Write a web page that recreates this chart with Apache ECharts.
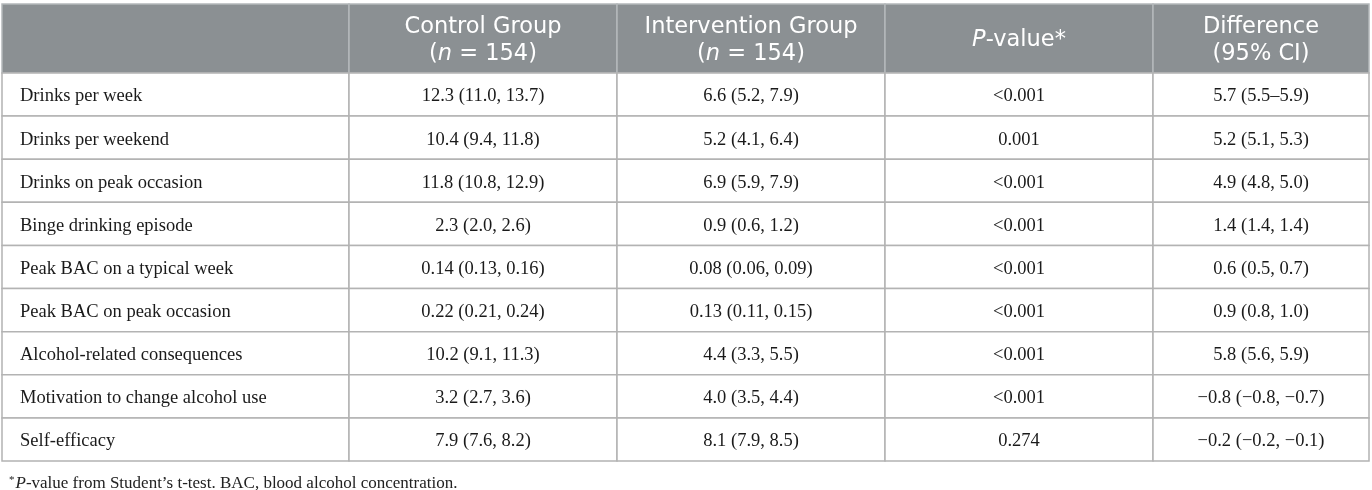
<!DOCTYPE html>
<html lang="en">
<head>
  <meta charset="utf-8">
  <title>Drinking outcomes table</title>
  <style>
    * { margin: 0; padding: 0; }
    #chart-container { position: relative; width: 1372px; height: 490px; overflow: hidden; background: #fff; }
  </style>
</head>
<body>
  <div id="chart-container"></div>
  <script src="https://cdn.jsdelivr.net/npm/echarts@6/dist/echarts.min.js"></script>
  <script>
    // table content
    var headerTitles = ['', 'Control Group', 'Intervention Group', 'P-value*', 'Difference'];
    var headerSubs = ['', '(n = 154)', '(n = 154)', '', '(95% CI)'];
    var rowLabels = [
      'Drinks per week',
      'Drinks per weekend',
      'Drinks on peak occasion',
      'Binge drinking episode',
      'Peak BAC on a typical week',
      'Peak BAC on peak occasion',
      'Alcohol-related consequences',
      'Motivation to change alcohol use',
      'Self-efficacy'
    ];
    var controlVals = [
      '12.3 (11.0, 13.7)', '10.4 (9.4, 11.8)', '11.8 (10.8, 12.9)', '2.3 (2.0, 2.6)',
      '0.14 (0.13, 0.16)', '0.22 (0.21, 0.24)', '10.2 (9.1, 11.3)', '3.2 (2.7, 3.6)', '7.9 (7.6, 8.2)'
    ];
    var interventionVals = [
      '6.6 (5.2, 7.9)', '5.2 (4.1, 6.4)', '6.9 (5.9, 7.9)', '0.9 (0.6, 1.2)',
      '0.08 (0.06, 0.09)', '0.13 (0.11, 0.15)', '4.4 (3.3, 5.5)', '4.0 (3.5, 4.4)', '8.1 (7.9, 8.5)'
    ];
    var pValues = ['<0.001', '0.001', '<0.001', '<0.001', '<0.001', '<0.001', '<0.001', '<0.001', '0.274'];
    var differences = [
      '5.7 (5.5–5.9)', '5.2 (5.1, 5.3)', '4.9 (4.8, 5.0)', '1.4 (1.4, 1.4)', '0.6 (0.5, 0.7)',
      '0.9 (0.8, 1.0)', '5.8 (5.6, 5.9)', '−0.8 (−0.8, −0.7)', '−0.2 (−0.2, −0.1)'
    ];
    var footnote = 'P-value from Student’s t-test. BAC, blood alcohol concentration.';

    // layout of the table (axis units)
    var colEdges = [0, 347, 615, 883, 1151, 1367];
    var headerSpan = 1.6;

    var columns = [rowLabels, controlVals, interventionVals, pValues, differences];
    var cells = [];
    for (var c = 0; c < 5; c++) {
      cells.push({ value: [c, -1], text: headerTitles[c], sub: headerSubs[c] });
      for (var r = 0; r < rowLabels.length; r++) {
        cells.push({ value: [c, r], text: columns[c][r] });
      }
    }

    function headerRich(title, sub) {
      var t = title.replace('P-value*', '{hi|P}{h|-value*}');
      if (t === title) t = '{h|' + title + '}';
      if (!sub) return t;
      var s = sub.replace('(n = 154)', '{h|(}{hi|n}{h| = 154)}');
      if (s === sub) s = '{h|' + sub + '}';
      return t + '\n' + s;
    }

    var headFont = "'DejaVu Sans', 'Open Sans', sans-serif";
    var bodyFont = "'Liberation Serif', serif";

    var dom = document.getElementById('chart-container');
    var myChart = echarts.init(dom, null, { renderer: 'canvas' });

    var option = {
      animation: false,
      backgroundColor: '#fff',
      grid: { left: 2, right: 3, top: 4, bottom: 29 },
      xAxis: { type: 'value', min: 0, max: colEdges[colEdges.length - 1], show: false },
      yAxis: { type: 'value', min: 0, max: headerSpan + rowLabels.length, inverse: true, show: false },
      title: {
        left: 4,
        top: 470,
        text: '{s|*}{i|P}{n|' + footnote.slice(1) + '}',
        textStyle: {
          rich: {
            s: { fontFamily: bodyFont, fontWeight: 'normal', fontSize: 11, color: '#222', verticalAlign: 'top', padding: [0, 1, 7, 0] },
            i: { fontFamily: bodyFont, fontWeight: 'normal', fontSize: 17, fontStyle: 'italic', color: '#222' },
            n: { fontFamily: bodyFont, fontWeight: 'normal', fontSize: 17, color: '#222' }
          }
        }
      },
      series: [{
        type: 'custom',
        data: cells,
        renderItem: function (params, api) {
          var cell = cells[params.dataIndex];
          var col = api.value(0);
          var row = api.value(1);
          var y0 = row < 0 ? 0 : headerSpan + row;
          var y1 = row < 0 ? headerSpan : headerSpan + row + 1;
          var p0 = api.coord([colEdges[col], y0]);
          var p1 = api.coord([colEdges[col + 1], y1]);
          var isHead = row < 0;
          var isLabel = col === 0 && !isHead;
          var textEl = isHead ? {
            type: 'text',
            style: {
              text: headerRich(cell.text, cell.sub),
              x: (p0[0] + p1[0]) / 2,
              y: (p0[1] + p1[1]) / 2 + 2,
              align: 'center',
              verticalAlign: 'middle',
              fill: '#fff',
              rich: {
                h: { fontFamily: headFont, fontSize: 22.5, fill: '#fff', lineHeight: 27 },
                hi: { fontFamily: headFont, fontSize: 22.5, fontStyle: 'italic', fill: '#fff', lineHeight: 27 }
              }
            }
          } : {
            type: 'text',
            style: {
              text: cell.text,
              x: isLabel ? p0[0] + 18 : (p0[0] + p1[0]) / 2,
              y: (p0[1] + p1[1]) / 2 + 2,
              align: isLabel ? 'left' : 'center',
              verticalAlign: 'middle',
              fontFamily: bodyFont,
              fontSize: 18.5,
              fill: '#1a1a1a'
            }
          };
          return {
            type: 'group',
            children: [{
              type: 'rect',
              shape: { x: p0[0], y: p0[1], width: p1[0] - p0[0], height: p1[1] - p0[1] },
              style: isHead
                ? { fill: '#8b9093', stroke: '#b4b8ba', lineWidth: 1.5 }
                : { fill: '#fff', stroke: '#b3b3b3', lineWidth: 1.5 }
            }, textEl]
          };
        }
      }]
    };

    myChart.setOption(option);
    window.addEventListener('resize', myChart.resize);
  </script>
</body>
</html>
